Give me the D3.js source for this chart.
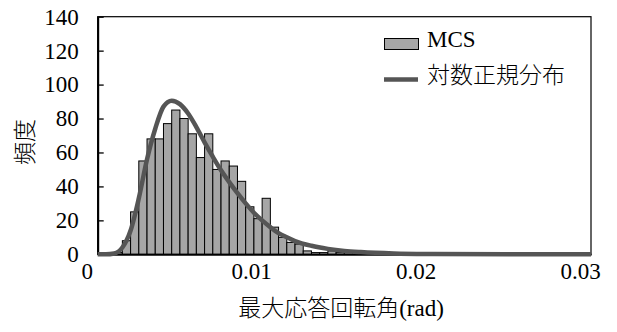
<!DOCTYPE html>
<html>
<head>
<meta charset="utf-8">
<script src="https://cdn.jsdelivr.net/npm/d3@7"></script>
<style>
    html, body { margin: 0; padding: 0; background: #fff; }
    svg { display: block; }
</style>
</head>
<body>
<div id="chart"></div>
<script>
// histogram bins (lower edge, rad) and counts
const binWidth = 0.0005;
const binStarts = [0.001, 0.0015, 0.002, 0.0025, 0.003, 0.0035, 0.004, 0.0045, 0.005, 0.0055,
    0.006, 0.0065, 0.007, 0.0075, 0.008, 0.0085, 0.009, 0.0095, 0.01, 0.0105,
    0.011, 0.0115, 0.012, 0.0125, 0.013, 0.0135, 0.014, 0.0145, 0.015];
const mcsCounts = [1, 8, 25, 55, 68, 68, 77, 85, 80, 71,
    57, 71, 50, 55, 52, 43, 28, 21, 33, 16,
    10, 7, 6, 2, 1, 1, 2, 1, 1];

// fitted lognormal curve
const curveX = [0, 0.0005, 0.001, 0.0015, 0.002, 0.0025, 0.003, 0.0035, 0.004, 0.0045,
    0.005, 0.0055, 0.006, 0.0065, 0.007, 0.0075, 0.008, 0.0085, 0.009, 0.0095,
    0.01, 0.0105, 0.011, 0.0115, 0.012, 0.013, 0.014, 0.015, 0.016, 0.018,
    0.02, 0.025, 0.03];
const curveY = [0, 0, 0.5, 4, 14, 33, 56, 74, 87, 90.5,
    88.5, 83, 75, 66, 57.5, 49.5, 42.5, 36, 30, 24.5,
    20, 16, 12.5, 10, 7.8, 5, 3.2, 2, 1.3, 0.5,
    0.2, 0, 0];

const xTicks = [0, 0.01, 0.02, 0.03];
const yTicks = [0, 20, 40, 60, 80, 100, 120, 140];
const xTitle = '最大応答回転角(rad)';
const yTitle = '頻度';
const legendLabels = ['MCS', '対数正規分布'];

const W = 617, H = 332;
const plot = {left: 97.7, right: 591, top: 16.7, bottom: 254.3};

const barFill = '#a6a6a6';
const lineColor = '#555555';
const fontStyle = 'font-family:"Liberation Serif","Times New Roman",serif;font-size:23px;';
const cjkStyle = 'font-family:"Liberation Serif","Noto Sans CJK JP",serif;font-size:23px;font-weight:300;';

const svg = d3.select('#chart').append('svg')
.attr('width', W)
.attr('height', H);

const x = d3.scaleLinear().domain([0, 0.03]).range([plot.left, plot.right]);
const y = d3.scaleLinear().domain([0, 140]).range([plot.bottom, plot.top]);

// plot area frame
svg.append('rect')
.attr('x', plot.left).attr('y', plot.top)
.attr('width', plot.right - plot.left).attr('height', plot.bottom - plot.top)
.attr('fill', 'none')
.attr('stroke', '#000')
.attr('stroke-width', 1.2);

// bars
const bins = binStarts.map((b, i) => ({x0: b, x1: b + binWidth, n: mcsCounts[i]}));
svg.append('g')
.selectAll('rect')
.data(bins)
.enter()
.append('rect')
.attr('x', d => x(d.x0))
.attr('y', d => y(d.n))
.attr('width', d => x(d.x1) - x(d.x0))
.attr('height', d => y(0) - y(d.n))
.attr('fill', barFill)
.attr('stroke', '#000')
.attr('stroke-width', 1);

// axes
const yAxis = svg.append('g')
.attr('transform', `translate(${plot.left},0)`)
.call(d3.axisLeft(y).tickValues(yTicks).tickSizeInner(-6).tickSizeOuter(0).tickPadding(19));
yAxis.select('.domain').attr('stroke', '#000').attr('stroke-width', 2);
yAxis.selectAll('.tick line').attr('stroke', '#000').attr('stroke-width', 1.3);
yAxis.selectAll('text').attr('style', fontStyle).attr('fill', '#000');

const xAxis = svg.append('g')
.attr('transform', `translate(0,${plot.bottom})`)
.call(d3.axisBottom(x).tickValues(xTicks).tickSize(0).tickPadding(8.5)
    .tickFormat(d => d === 0 ? '0' : d3.format('.2f')(d)));
xAxis.select('.domain').attr('stroke', '#000').attr('stroke-width', 2);
xAxis.selectAll('text')
.attr('style', fontStyle)
.attr('fill', '#000')
.attr('dx', -11);

// lognormal curve on top
const line = d3.line()
.x((d, i) => x(curveX[i]))
.y(d => y(d))
.curve(d3.curveMonotoneX);

svg.append('path')
.datum(curveY)
.attr('fill', 'none')
.attr('stroke', lineColor)
.attr('stroke-width', 4.5)
.attr('stroke-linejoin', 'round')
.attr('d', line);

// titles
svg.append('text')
.attr('x', 341)
.attr('y', 316)
.attr('text-anchor', 'middle')
.attr('style', cjkStyle)
.text(xTitle);

svg.append('text')
.attr('transform', 'translate(33,142) rotate(-90)')
.attr('text-anchor', 'middle')
.attr('style', cjkStyle)
.text(yTitle);

// legend
const lg = svg.append('g');
lg.append('rect')
.attr('x', 384.5).attr('y', 38.5)
.attr('width', 34).attr('height', 11)
.attr('fill', barFill)
.attr('stroke', '#000')
.attr('stroke-width', 1);
lg.append('text')
.attr('x', 427).attr('y', 47)
.attr('style', fontStyle)
.text(legendLabels[0]);
lg.append('line')
.attr('x1', 384).attr('x2', 418)
.attr('y1', 79.5).attr('y2', 79.5)
.attr('stroke', lineColor)
.attr('stroke-width', 4.5);
lg.append('text')
.attr('x', 427).attr('y', 83)
.attr('style', cjkStyle)
.text(legendLabels[1]);
</script>
</body>
</html>
